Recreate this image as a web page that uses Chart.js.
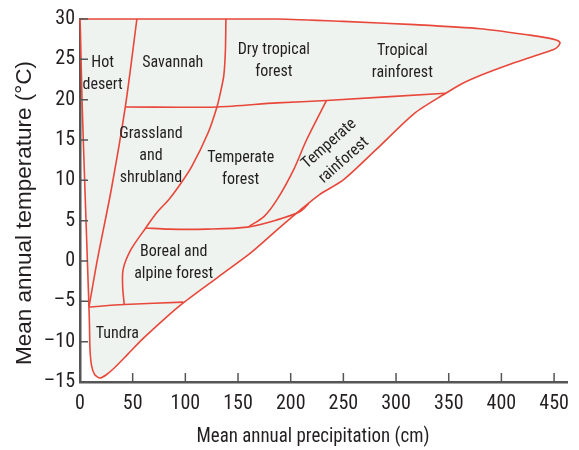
<!DOCTYPE html>
<html>
<head>
<meta charset="utf-8">
<script src="https://cdn.jsdelivr.net/npm/chart.js@4"></script>
<style>
    html, body { margin: 0; padding: 0; background: #ffffff; }
    #biomeChart { display: block; }
</style>
</head>
<body>
<canvas id="biomeChart" width="579" height="450"></canvas>
<script>
// ==========================================
// DATA (precipitation in cm, temperature in °C)
// ==========================================

const xTicks = [0, 50, 100, 150, 200, 250, 300, 350, 400, 450];
const yTicks = [-15, -10, -5, 0, 5, 10, 15, 20, 25, 30];

// outer boundary of all biomes (closed)
const outlinePrecip = [0, 6, 140, 187, 250, 318, 380, 427, 446, 452, 455, 455.6, 453, 449, 430, 405, 381, 362, 346, 318, 281, 250, 227, 209, 187, 162, 131, 98, 80, 60, 45, 33, 25, 19, 14, 11, 9.5, 9, 8.5, 4.7, 1.9, 0.4, 0];
const outlineTemp   = [30, 30, 30, 30, 29.7, 29.3, 28.8, 28.0, 27.6, 27.4, 27.2, 27.0, 26.5, 26.2, 25.35, 24.24, 23.06, 21.95, 20.7, 18.35, 13.8, 10.05, 8.2, 6.3, 3.85, 1.0, -2.0, -5.2, -7.2, -9.6, -11.6, -13.2, -14.1, -14.5, -14.1, -13.0, -11.0, -8.0, -5.7, 8.8, 20, 28.5, 30];

// hot desert | savannah, then grassland left edge
const desertEdgePrecip = [54, 43, 29.6, 17, 8.5];
const desertEdgeTemp   = [30, 19.1, 8.8, 0.5, -5.7];

// line near 20 °C
const warmLinePrecip = [43, 130, 187, 234, 347];
const warmLineTemp   = [19.1, 19.1, 19.6, 19.9, 20.8];

// savannah | dry tropical forest, grassland | temperate forest, boreal left edge
const drynessPrecip = [138.5, 138, 136.5, 133.5, 130, 121.6, 106, 93.5, 84.2, 73, 62.4, 48.3, 41, 40.5, 42];
const drynessTemp   = [30, 26, 23, 21, 19.1, 15.9, 11.7, 9.2, 7.6, 6.0, 4.1, 1.4, -1.0, -3.2, -5.4];

// top of boreal forest
const borealTopPrecip = [62.4, 84.2, 120, 159, 187, 208.6, 217];
const borealTopTemp   = [4.1, 3.95, 3.95, 4.2, 5.1, 6.1, 7.1];

// temperate forest | temperate rainforest
const rainforestEdgePrecip = [234, 215, 202.7, 187, 174.6, 160.6];
const rainforestEdgeTemp   = [19.9, 15, 11.3, 7.6, 5.5, 4.3];

// top of tundra
const tundraTopPrecip = [8.5, 42, 98];
const tundraTopTemp   = [-5.7, -5.4, -5.1];

// biome names, anchored at data coordinates
const biomeLabels = [
    { lines: ['Hot', 'desert'], x: 21.5, y: 23.5, rot: 0 },
    { lines: ['Savannah'], x: 88, y: 24.8, rot: 0 },
    { lines: ['Dry tropical', 'forest'], x: 184, y: 25.1, rot: 0 },
    { lines: ['Tropical', 'rainforest'], x: 306, y: 25.0, rot: 0 },
    { lines: ['Grassland', 'and', 'shrubland'], x: 67.4, y: 13.3, rot: 0 },
    { lines: ['Temperate', 'forest'], x: 152.5, y: 11.7, rot: 0 },
    { lines: ['Boreal and', 'alpine forest'], x: 89, y: 0.1, rot: 0 },
    { lines: ['Tundra'], x: 35.5, y: -8.8, rot: 0 },
    { lines: ['Temperate', 'rainforest'], x: 243.5, y: 13.8, rot: -41.5 }
];

// ==========================================
// STYLE
// ==========================================

const RED = '#e8473a';
const FILL = '#eef3f0';
const AXIS = '#555555';
const INK = '#231f20';
const CONDENSED = "'Roboto Condensed', 'DejaVu Sans Condensed', sans-serif";
const REGULAR = "'Liberation Sans', Arial, sans-serif";

const toPoints = (xs, ys) => xs.map((x, i) => ({ x: x, y: ys[i] }));

const boundary = (xs, ys) => ({
    data: toPoints(xs, ys),
    showLine: true,
    fill: false,
    borderColor: RED,
    borderWidth: 1.6,
    pointRadius: 0,
    tension: 0.3,
    clip: false,
    order: 0
});

// ==========================================
// PLUGINS
// ==========================================

// tick marks pointing into the plot area
const innerTicks = {
    id: 'innerTicks',
    afterDatasetsDraw(chart) {
        const { ctx, chartArea, scales } = chart;
        ctx.save();
        ctx.strokeStyle = AXIS;
        ctx.lineWidth = 1.5;
        ctx.beginPath();
        xTicks.forEach(v => {
            const px = scales.x.getPixelForValue(v);
            ctx.moveTo(px, chartArea.bottom);
            ctx.lineTo(px, chartArea.bottom - 9);
        });
        yTicks.forEach(v => {
            const py = scales.y.getPixelForValue(v);
            ctx.moveTo(chartArea.left, py);
            ctx.lineTo(chartArea.left + 8, py);
        });
        ctx.stroke();
        ctx.restore();
    }
};

// biome names and axis titles
const textLayer = {
    id: 'textLayer',
    afterDraw(chart) {
        const { ctx, scales } = chart;
        ctx.save();
        ctx.fillStyle = INK;
        ctx.textAlign = 'center';
        ctx.textBaseline = 'middle';

        ctx.font = '16px ' + CONDENSED;
        const lineH = 22;
        biomeLabels.forEach(lbl => {
            const px = scales.x.getPixelForValue(lbl.x);
            const py = scales.y.getPixelForValue(lbl.y) + 2.5; // baseline nudge for this font
            ctx.save();
            ctx.translate(px, py);
            ctx.rotate(lbl.rot * Math.PI / 180);
            const top = -(lbl.lines.length - 1) * lineH / 2;
            lbl.lines.forEach((t, i) => ctx.fillText(t, 0, top + i * lineH));
            ctx.restore();
        });

        // x title: a touch narrower than the font's natural width
        ctx.save();
        ctx.font = '21px ' + CONDENSED;
        ctx.translate(313, 437);
        ctx.scale(0.9, 1);
        ctx.fillText('Mean annual precipitation (cm)', 0, 0);
        ctx.restore();

        ctx.font = '22.5px ' + REGULAR;
        ctx.translate(25, 213);
        ctx.rotate(-Math.PI / 2);
        ctx.fillText('Mean annual temperature (°C)', 0, 0);
        ctx.restore();
    }
};

// ==========================================
// CHART
// ==========================================

const ctx = document.getElementById('biomeChart').getContext('2d');

new Chart(ctx, {
    type: 'scatter',
    data: {
        datasets: [
            {
                data: toPoints(outlinePrecip, outlineTemp),
                showLine: true,
                fill: 'shape',
                backgroundColor: FILL,
                borderColor: RED,
                borderWidth: 1.6,
                pointRadius: 0,
                tension: 0.25,
                clip: false,
                order: 10   // drawn first, underneath the dividers
            },
            boundary(desertEdgePrecip, desertEdgeTemp),
            boundary(warmLinePrecip, warmLineTemp),
            boundary(drynessPrecip, drynessTemp),
            boundary(borealTopPrecip, borealTopTemp),
            boundary(rainforestEdgePrecip, rainforestEdgeTemp),
            boundary(tundraTopPrecip, tundraTopTemp)
        ]
    },
    options: {
        responsive: false,
        animation: false,
        layout: {
            padding: { top: 19, right: 4, left: 0, bottom: 0 }
        },
        plugins: {
            legend: { display: false },
            tooltip: { enabled: false }
        },
        scales: {
            x: {
                type: 'linear',
                min: 0,
                max: 463,
                afterBuildTicks: scale => {
                    scale.ticks = xTicks.map(v => ({ value: v }));
                },
                afterFit: scale => { scale.height = 68; },
                grid: { display: false, drawTicks: false },
                border: { display: true, color: AXIS, width: 2.5 },
                ticks: {
                    padding: 10,
                    color: INK,
                    font: { family: CONDENSED, size: 20 }
                }
            },
            y: {
                type: 'linear',
                min: -15,
                max: 30,
                afterBuildTicks: scale => {
                    scale.ticks = yTicks.map(v => ({ value: v }));
                },
                afterFit: scale => { scale.width = 80; },
                grid: { display: false, drawTicks: false },
                border: { display: true, color: AXIS, width: 2.5 },
                ticks: {
                    padding: 5,
                    color: INK,
                    font: { family: CONDENSED, size: 20 },
                    callback: v => (v < 0 ? '\u2013' + Math.abs(v) : v)
                }
            }
        }
    },
    plugins: [innerTicks, textLayer]
});
</script>
</body>
</html>
